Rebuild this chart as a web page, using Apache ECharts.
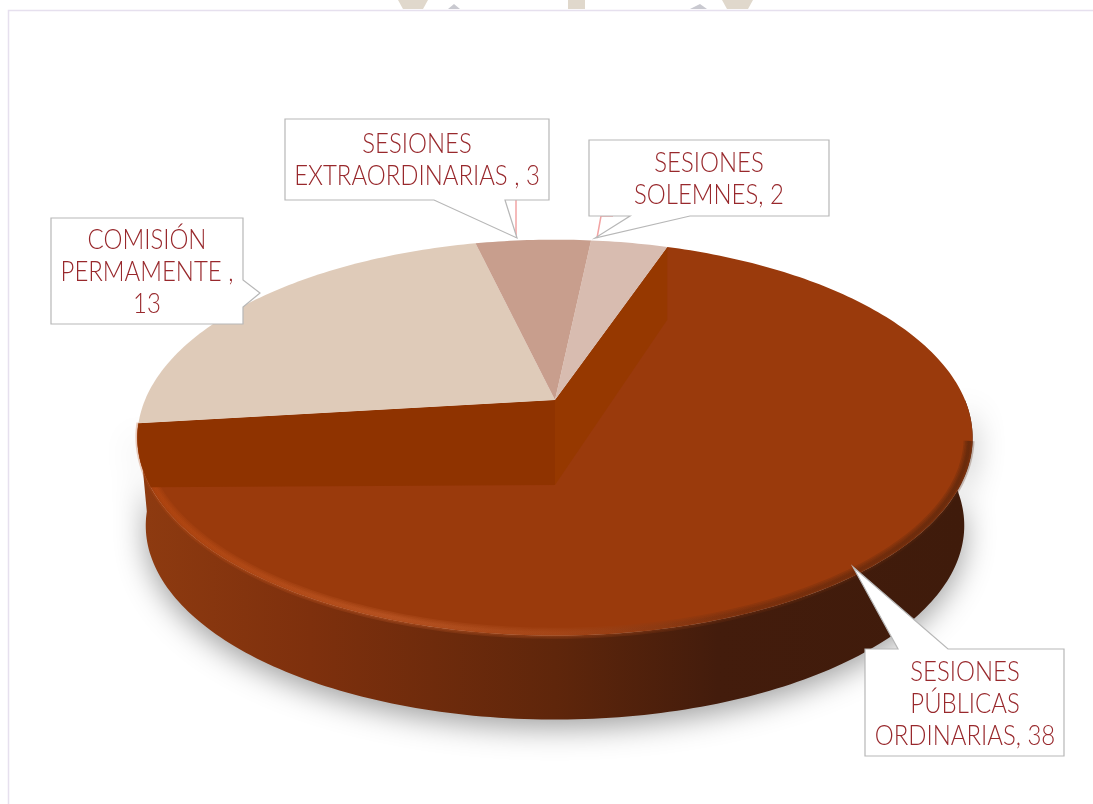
<!DOCTYPE html>
<html>
<head>
<meta charset="utf-8">
<style>
  html, body { margin: 0; padding: 0; background: #fff; }
  #chart { width: 1093px; height: 804px; }
</style>
<script src="https://cdn.jsdelivr.net/npm/echarts@6/dist/echarts.min.js"></script>
</head>
<body>
<div id="chart"></div>
<script>
// data, clockwise from the start angle
const categories = ['SESIONES SOLEMNES', 'SESIONES PÚBLICAS ORDINARIAS', 'COMISIÓN PERMAMENTE', 'SESIONES EXTRAORDINARIAS']
const values = [2, 38, 13, 3]
const labelTemplates = [
  'SESIONES\nSOLEMNES, {v}',
  'SESIONES\nPÚBLICAS\nORDINARIAS, {v}',
  'COMISIÓN\nPERMAMENTE ,\n{v}',
  'SESIONES\nEXTRAORDINARIAS , {v}'
]
const sliceColors = ['#d8bcb0', '#9a3a0c', '#dfcbb9', '#c89e8d']
const BIG = 1 // the slice drawn as the raised front piece

// pie projection
const startAngle = 6
const cx = 555
const apexY = 400
const R = 410
const persp = 0.19
const slope = 114.8
const total = values.reduce((a, b) => a + b, 0)

function rim(deg, r) {
  const a = deg * Math.PI / 180
  const t = -Math.cos(a) * r
  const w = 1 / (1 - persp * t)
  return [cx + R * r * Math.sin(a) * w, (slope * t + apexY) * w]
}
function base(p) {
  return [cx + (p[0] - cx) * 0.98, p[1] * 0.98 + 96.7]
}
function drop(p, deg) {
  // inner wall gets shorter toward the far side
  const t = -Math.cos(deg * Math.PI / 180)
  return [p[0], p[1] + (t < 0 ? 85 + 13 * t : 85)]
}
function arcPoints(from, to, r) {
  const pts = []
  const n = Math.max(2, Math.ceil(Math.abs(to - from)))
  for (let i = 0; i <= n; i++) pts.push(rim(from + (to - from) * i / n, r === undefined ? 1 : r))
  return pts
}
function sliceRange(i) {
  let a = startAngle
  for (let k = 0; k < i; k++) a += values[k] / total * 360
  return [a, a + values[i] / total * 360]
}

const Grad = echarts.graphic.LinearGradient

function renderSlice(params, api) {
  const i = api.value(0)
  const [a0, a1] = sliceRange(i)
  const apex = rim(0, 0)
  const children = [{
    type: 'polygon',
    z2: i === BIG ? 3 : 8,
    shape: { points: [apex].concat(arcPoints(a0, a1)) },
    style: { fill: sliceColors[i] }
  }]
  if (i !== BIG) return { type: 'group', children: children }

  // outer side of the big slice
  const sideTop = arcPoints(Math.max(a0, 90), Math.min(a1, 280))
  const sideBottom = sideTop.map(base).reverse()
  children.push({
    type: 'polygon',
    z2: 1,
    shape: { points: sideTop.concat(sideBottom) },
    style: {
      fill: new Grad(147, 0, 963, 0, [
        { offset: 0, color: '#8d3a10' },
        { offset: 0.2, color: '#7e300d' },
        { offset: 0.5, color: '#5f260b' },
        { offset: 0.7, color: '#431c0c' },
        { offset: 1, color: '#3f1b0b' }
      ], true),
      shadowBlur: 30,
      shadowColor: 'rgba(0,0,0,0.38)',
      shadowOffsetY: 8
    }
  })
  // soft bevel along the front edge, a few wide faint strokes
  const edge = arcPoints(102, Math.min(a1, 285), 0.992)
  const bevel = new Grad(140, 0, 973, 0, [
    { offset: 0, color: '#b4460f' },
    { offset: 0.3, color: '#c05a28' },
    { offset: 0.5, color: '#a84a1c' },
    { offset: 0.72, color: '#6e2c0e' },
    { offset: 1, color: '#55240c' }
  ], true)
  const widths = [11, 8, 5, 3]
  widths.forEach((lw, k) => {
    children.push({
      type: 'polyline',
      z2: 4 + k * 0.1,
      shape: { points: edge },
      style: { fill: null, lineWidth: lw, opacity: 0.26, stroke: bevel }
    })
  })
  // inner walls seen behind the big slice
  const right = rim(a0, 1)
  children.push({
    type: 'polygon',
    z2: 6,
    shape: { points: [apex, right, drop(right, a0), drop(apex, 90)] },
    style: { fill: '#963800' }
  })
  const low = drop(apex, 90)
  const leftPts = []
  for (let d = a1; d > 180; d--) {
    const p = rim(d, 1)
    if (p[1] > low[1] + 5) break
    leftPts.push(p)
  }
  children.push({
    type: 'polygon',
    z2: 7,
    shape: { points: [apex].concat(leftPts, [low]) },
    style: { fill: '#8f3300' }
  })
  return { type: 'group', children: children }
}

// callout boxes: outline in page pixels, text centre
const callouts = [
  { box: [[589, 140], [829, 140], [829, 216], [690, 216], [595, 238], [630, 216], [589, 216]], text: [709, 179] },
  { box: [[865, 649], [898, 649], [853, 567], [948, 649], [1064, 649], [1064, 756], [865, 756]], text: [965, 704] },
  { box: [[51, 218], [243, 218], [243, 280], [260, 293], [243, 307], [243, 324], [51, 324]], text: [147, 272] },
  { box: [[285, 119], [549, 119], [549, 200], [505, 200], [517, 238], [434, 200], [285, 200]], text: [417, 160] }
]
const pinkLeaders = [
  [[516, 200], [516, 238]],
  [[597, 238], [601, 216], [613, 216]]
]
const watermarkTan = [
  [[398, 0], [428, 0], [423, 9], [403, 9]],
  [[568, 0], [585, 0], [585, 9], [568, 9]],
  [[722, 0], [753, 0], [748, 9], [727, 9]]
]
const watermarkGrey = [
  [[448, 9], [454, 4], [460, 9]],
  [[690, 9], [700, 4], [707, 9]]
]

const graphics = []
watermarkTan.forEach(p => {
  graphics.push({ type: 'polygon', z: 1, silent: true, shape: { points: p }, style: { fill: '#e0d8cc' } })
})
watermarkGrey.forEach(p => {
  graphics.push({ type: 'polygon', z: 1, silent: true, shape: { points: p }, style: { fill: '#c9c9d0' } })
})
graphics.push({
  type: 'polyline', z: 1, silent: true,
  shape: { points: [[8.5, 804], [8.5, 10.5], [1093, 10.5]] },
  style: { fill: null, stroke: '#e6e0ee', lineWidth: 1.5 }
})
pinkLeaders.forEach(p => {
  graphics.push({ type: 'polyline', z: 20, silent: true, shape: { points: p }, style: { fill: null, stroke: '#f2a3a3', lineWidth: 1.5 } })
})
callouts.forEach((c, i) => {
  graphics.push({
    type: 'polygon', z: 21, silent: true,
    shape: { points: c.box },
    style: { fill: '#fff', stroke: '#b7b7b7', lineWidth: 1.2 }
  })
  graphics.push({
    type: 'group', z: 22, silent: true, x: c.text[0], y: c.text[1], scaleX: 0.855,
    children: [{
      type: 'text', z: 22,
      style: {
        text: labelTemplates[i].replace('{v}', values[i]),
        x: 0, y: 0, align: 'center', verticalAlign: 'middle',
        font: '300 28px Lato', lineHeight: 32, fill: '#98282c'
      }
    }]
  })
})

const chart = echarts.init(document.getElementById('chart'))
chart.setOption({
  animation: false,
  backgroundColor: '#ffffff',
  graphic: graphics,
  series: [{
    type: 'custom',
    coordinateSystem: 'none',
    silent: true,
    z: 5,
    data: categories.map((name, i) => ({ name: name, value: [i, values[i]] })),
    renderItem: renderSlice
  }]
})
</script>
</body>
</html>
